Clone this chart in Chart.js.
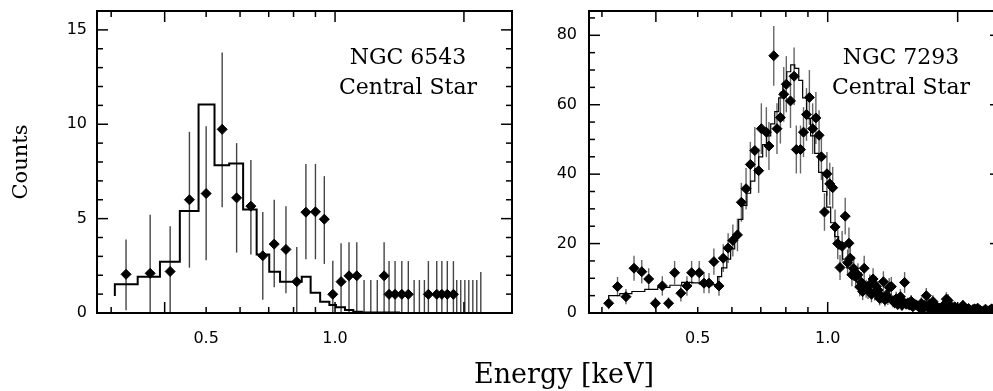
<!DOCTYPE html>
<html>
<head>
<meta charset="utf-8">
<script src="https://cdn.jsdelivr.net/npm/chart.js@4.4.0/dist/chart.umd.min.js"></script>
<style>
    html, body { margin: 0; padding: 0; background: #fff; }
    body { width: 993px; height: 391px; overflow: hidden; position: relative; }
    canvas { position: absolute; top: 0; }
    #left { left: 0; }
    #right { left: 540px; }
    .note {
        position: absolute; top: 42px; width: 220px;
        font-family: 'DejaVu Serif', serif; font-size: 22px; line-height: 30px;
        text-align: center; color: #000;
    }
    #xtitle {
        position: absolute; left: 414px; top: 359px; width: 300px;
        font-family: 'DejaVu Serif', serif; font-size: 27px; line-height: 30px;
        text-align: center; color: #000;
    }
</style>
</head>
<body>
<canvas id="left" width="540" height="391"></canvas>
<canvas id="right" width="470" height="391"></canvas>
<div class="note" style="left:298px">NGC 6543<br>Central Star</div>
<div class="note" style="left:791px">NGC 7293<br>Central Star</div>
<div id="xtitle">Energy [keV]</div>
<script>
// NGC 6543 - measured bins
const leftEnergy = [0.325, 0.370, 0.412, 0.457, 0.500, 0.545, 0.589, 0.636, 0.678, 0.721, 0.768, 0.814, 0.855, 0.900, 0.944,
    0.988, 1.033, 1.078, 1.124, 1.302, 1.337, 1.381, 1.432, 1.483, 1.652, 1.728, 1.776, 1.829, 1.890]
const leftCounts = [2.05, 2.1, 2.2, 6.0, 6.33, 9.73, 6.1, 5.66, 3.03, 3.65, 3.37, 1.66, 5.34, 5.36, 4.97,
    0.99, 1.66, 1.97, 1.97, 1.97, 0.99, 0.99, 0.99, 0.99, 0.99, 0.99, 0.99, 0.99, 0.99]
const leftLow = [0.15, 0, 0, 2.4, 2.8, 5.6, 3.2, 3.1, 0.7, 1.37, 1.05, 0, 2.85, 2.85, 2.6,
    0, 0, 0, 0, 0, 0, 0, 0, 0, 0, 0, 0, 0, 0]
const leftHigh = [3.9, 5.2, 4.6, 9.6, 9.9, 13.8, 9.0, 8.1, 5.35, 6.0, 5.66, 3.5, 7.9, 7.9, 7.25,
    2.77, 3.7, 3.75, 3.75, 3.75, 2.75, 2.75, 2.75, 2.75, 2.75, 2.75, 2.75, 2.75, 2.75]
// empty bins, only the upper error is drawn
const leftEmptyEnergy = [1.169, 1.212, 1.255, 1.530, 1.574, 1.617, 1.924, 1.966, 2.010, 2.053, 2.098, 2.143, 2.190]
const leftEmptyHigh = [1.75, 1.75, 1.75, 1.75, 1.75, 1.75, 1.75, 1.75, 1.75, 1.75, 1.75, 1.75, 2.17]
// model histogram (left bin edges)
const leftModelEnergy = [0.306, 0.346, 0.390, 0.434, 0.480, 0.523, 0.566, 0.610, 0.656, 0.702, 0.744, 0.836, 0.877,
    0.923, 0.970, 1.005, 1.055, 1.103, 1.155, 1.345, 1.419]
const leftModelCounts = [0.9, 1.52, 1.92, 2.71, 5.41, 11.04, 7.83, 7.92, 5.49, 3.1, 2.19, 1.66, 1.92,
    1.07, 0.6, 0.42, 0.3, 0.16, 0.07, 0.03, 0.03]

// NGC 7293
const rightEnergy = [0.311, 0.326, 0.341, 0.356, 0.371, 0.385, 0.399, 0.414, 0.428, 0.442,
    0.457, 0.472, 0.484, 0.504, 0.517, 0.531, 0.545, 0.560, 0.573, 0.588,
    0.603, 0.618, 0.631, 0.647, 0.662, 0.678, 0.692, 0.702, 0.721, 0.731,
    0.750, 0.763, 0.777, 0.791, 0.802, 0.820, 0.836, 0.846, 0.865, 0.879,
    0.893, 0.907, 0.923, 0.939, 0.955, 0.967, 0.983, 0.996, 1.011, 1.027,
    1.040, 1.055, 1.068, 1.080, 1.098, 1.112, 1.120, 1.128, 1.138, 1.149,
    1.161, 1.175, 1.186, 1.197, 1.205, 1.215, 1.228, 1.240, 1.252, 1.263,
    1.274, 1.285, 1.296, 1.307, 1.319, 1.331, 1.346, 1.357, 1.368, 1.378,
    1.388, 1.404, 1.416, 1.429, 1.441, 1.452, 1.463, 1.474, 1.486, 1.497,
    1.507, 1.520, 1.534, 1.547, 1.561, 1.575, 1.590, 1.605, 1.619, 1.633,
    1.648, 1.662, 1.677, 1.692, 1.706, 1.720, 1.737, 1.753, 1.768, 1.784,
    1.800, 1.815, 1.830, 1.848, 1.865, 1.883, 1.900, 1.914, 1.927, 1.948,
    1.968, 1.989, 2.010, 2.034, 2.057, 2.078, 2.098, 2.120, 2.150, 2.170,
    2.189, 2.210, 2.225, 2.248, 2.272, 2.296, 2.320, 2.350, 2.372, 2.397,
    2.420, 2.445, 2.470, 2.500]
const rightCounts = [2.8, 7.6, 4.7, 12.9, 11.9, 9.8, 2.8, 7.8, 2.8, 11.6,
    5.7, 7.8, 11.6, 11.6, 8.6, 8.6, 14.8, 7.8, 15.8, 18.7,
    20.9, 22.5, 31.9, 35.8, 42.8, 46.8, 41.0, 53.1, 52.1, 48.1,
    74.1, 53.1, 56.3, 63.0, 65.9, 61.1, 68.2, 47.1, 47.1, 52.1,
    57.2, 62.1, 53.1, 56.2, 51.2, 45.0, 29.1, 40.1, 37.2, 36.1,
    24.8, 20.0, 13.1, 19.2, 27.9, 14.5, 20.1, 15.8, 11.0, 12.8,
    10.5, 11.0, 7.5, 8.8, 6.2, 12.9, 7.0, 6.6, 8.2, 5.4,
    9.8, 6.0, 7.6, 6.6, 4.2, 4.9, 9.0, 3.8, 5.2, 4.4,
    7.4, 7.6, 3.4, 3.0, 4.1, 2.5, 3.6, 4.7, 2.2, 3.2,
    8.8, 2.6, 2.8, 2.3, 3.4, 1.8, 2.5, 2.3, 2.0, 1.5,
    2.8, 1.2, 2.2, 5.0, 1.6, 2.6, 1.0, 3.3, 1.4, 2.0,
    0.5, 1.4, 0.8, 2.0, 1.1, 4.0, 3.6, 1.2, 2.0, 0.7,
    1.8, 0.9, 1.2, 0.5, 2.2, 0.8, 0.6, 1.3, 0.5, 1.0,
    1.2, 0.4, 1.4, 0.9, 0.5, 0.6, 1.1, 0.5, 0.8, 1.2,
    0.6, 0.9, 0.5, 0.8]
const rightErr = [1.7, 2.8, 2.2, 3.6, 3.4, 3.1, 1.7, 2.8, 1.7, 3.4,
    2.4, 2.8, 3.4, 3.4, 2.9, 2.9, 3.8, 2.8, 4.0, 4.3,
    4.6, 4.7, 5.6, 6.0, 6.5, 6.8, 6.4, 7.3, 7.2, 6.9,
    8.6, 7.3, 7.5, 7.9, 8.1, 7.8, 8.3, 6.9, 6.9, 7.2,
    7.6, 7.9, 7.3, 7.5, 7.2, 6.7, 5.4, 6.3, 6.1, 6.0,
    5.0, 4.5, 3.6, 4.4, 5.3, 3.8, 4.5, 4.0, 3.3, 3.6,
    3.2, 3.3, 2.7, 3.0, 2.5, 3.6, 2.6, 2.6, 2.9, 2.3,
    3.1, 2.4, 2.8, 2.6, 2.0, 2.2, 3.0, 1.9, 2.3, 2.1,
    2.7, 2.8, 1.8, 1.7, 2.0, 1.6, 1.9, 2.2, 1.5, 1.8,
    3.0, 1.6, 1.7, 1.5, 1.8, 1.3, 1.6, 1.5, 1.4, 1.2,
    1.7, 1.1, 1.5, 2.2, 1.3, 1.6, 1.0, 1.8, 1.2, 1.4,
    0.7, 1.2, 0.9, 1.4, 1.0, 2.0, 1.9, 1.1, 1.4, 0.8,
    1.3, 0.9, 1.1, 0.7, 1.5, 0.9, 0.8, 1.1, 0.7, 1.0,
    1.1, 0.6, 1.2, 1.0, 0.7, 0.8, 1.0, 0.7, 0.9, 1.1,
    0.8, 0.9, 0.7, 0.9]
const rightModelEnergy = [0.311, 0.330, 0.352, 0.377, 0.404, 0.431, 0.459, 0.487, 0.506, 0.522,
    0.539, 0.556, 0.568, 0.584, 0.596, 0.609, 0.622, 0.636, 0.650, 0.663,
    0.678, 0.692, 0.707, 0.722, 0.738, 0.754, 0.770, 0.787, 0.804, 0.821,
    0.839, 0.857, 0.875, 0.894, 0.913, 0.933, 0.953, 0.974, 0.995, 1.016,
    1.038, 1.060, 1.083, 1.107, 1.137, 1.167, 1.205, 1.251, 1.305, 1.377,
    1.468, 1.590, 1.741, 1.936, 2.189, 2.52]
const rightModelCounts = [4.2, 5.0, 5.6, 6.2, 6.8, 7.4, 8.0, 8.8, 8.7, 8.3,
    7.9, 8.2, 10.5, 13.0, 15.5, 18.5, 22.5, 27, 31, 34.5,
    38, 41.5, 45, 48.5, 51, 54.5, 58, 62, 66, 69.5,
    71.5, 70.5, 67, 62, 56, 51, 46, 40.5, 35, 30.5,
    26, 22, 18.5, 15.5, 13, 11, 9, 7.5, 6, 4.8,
    3.8, 2.8, 2.0, 1.4, 0.9, 0.6]

// axes
const xTickLabels = [0.5, 1.0]
const xLongTicks = [0.4, 1, 2]
const xShortTicks = [0.3, 0.5, 0.6, 0.7, 0.8, 0.9]
const leftYLabels = [0, 5, 10, 15]
const rightYLabels = [0, 20, 40, 60, 80]

const tickFont = { family: 'DejaVu Sans', size: 16 }

const framePlugin = (yMajor, yStep) => ({
    id: 'frame',
    afterDraw(chart) {
        const { ctx, chartArea: a, scales: { x, y } } = chart
        const seg = (x1, y1, x2, y2) => {
            ctx.beginPath()
            ctx.moveTo(x1, y1)
            ctx.lineTo(x2, y2)
            ctx.stroke()
        }
        ctx.save()
        ctx.strokeStyle = '#000'
        ctx.lineWidth = 1.5
        const xTick = (v, len) => {
            const px = x.getPixelForValue(v)
            seg(px, a.bottom, px, a.bottom - len)
            seg(px, a.top, px, a.top + len)
        }
        xLongTicks.forEach(v => xTick(v, 11))
        xShortTicks.forEach(v => xTick(v, 6))
        for (let v = 0; v <= y.max; v += yStep) {
            const len = yMajor.includes(v) ? 11 : 6
            const py = y.getPixelForValue(v)
            seg(a.left, py, a.left + len, py)
            seg(a.right, py, a.right - len, py)
        }
        ctx.lineWidth = 2
        ctx.strokeRect(a.left, a.top, a.right - a.left, a.bottom - a.top)
        ctx.restore()
    }
})

const errorBarPlugin = (bars, color) => ({
    id: 'errorBars',
    beforeDatasetsDraw(chart) {
        const { ctx, chartArea: a, scales: { x, y } } = chart
        ctx.save()
        ctx.beginPath()
        ctx.rect(a.left, a.top, a.right - a.left, a.bottom - a.top)
        ctx.clip()
        ctx.strokeStyle = color
        ctx.lineWidth = 1.4
        bars.forEach(b => {
            const px = x.getPixelForValue(b.x)
            ctx.beginPath()
            ctx.moveTo(px, y.getPixelForValue(b.lo))
            ctx.lineTo(px, y.getPixelForValue(b.hi))
            ctx.stroke()
        })
        ctx.restore()
    }
})

const makeChart = (id, o) => new Chart(document.getElementById(id), {
    type: 'scatter',
    data: {
        datasets: [{
            type: 'line',
            data: o.modelE.map((e, i) => ({ x: e, y: o.modelC[i] })),
            stepped: 'after',
            borderColor: '#000',
            borderWidth: o.modelWidth,
            pointRadius: 0,
            fill: false
        }, {
            data: o.e.map((e, i) => ({ x: e, y: o.c[i] })),
            pointStyle: 'rectRot',
            pointRadius: 5,
            backgroundColor: '#000',
            borderColor: '#000',
            borderWidth: 1
        }]
    },
    options: {
        responsive: false,
        animation: false,
        devicePixelRatio: 1,
        layout: { padding: { top: 11, right: o.padRight, left: 0, bottom: 0 } },
        plugins: { legend: { display: false }, tooltip: { enabled: false } },
        scales: {
            x: {
                type: 'logarithmic',
                min: o.xMin,
                max: o.xMax,
                grid: { display: false, drawTicks: false },
                border: { display: false },
                afterBuildTicks: s => { s.ticks = xTickLabels.map(v => ({ value: v })) },
                afterFit: s => {
                    s.height = 78
                    s.paddingLeft = 0
                    s.paddingRight = 0
                },
                ticks: {
                    callback: v => Number(v).toFixed(1),
                    font: tickFont, color: '#000', padding: 16, maxRotation: 0, autoSkip: false
                }
            },
            y: {
                min: 0,
                max: o.yMax,
                grid: { display: false, drawTicks: false },
                border: { display: false },
                afterBuildTicks: s => { s.ticks = o.yLabels.map(v => ({ value: v })) },
                afterFit: s => {
                    s.width = o.yWidth
                    s.paddingTop = 0
                    s.paddingBottom = 0
                },
                ticks: { font: tickFont, color: '#000', padding: o.yPad, autoSkip: false },
                title: {
                    display: !!o.yTitle,
                    text: o.yTitle || '',
                    color: '#000',
                    font: { family: 'DejaVu Serif', size: 21 },
                    padding: { top: 9, bottom: 0 }
                }
            }
        }
    },
    plugins: [framePlugin(o.yLabels, o.yStep), errorBarPlugin(o.bars, o.barColor)]
})

const leftBars = leftEnergy.map((e, i) => ({ x: e, lo: leftLow[i], hi: leftHigh[i] }))
    .concat(leftEmptyEnergy.map((e, i) => ({ x: e, lo: 0, hi: leftEmptyHigh[i] })))

const rightBars = rightEnergy.map((e, i) => ({ x: e, lo: rightCounts[i] - rightErr[i], hi: rightCounts[i] + rightErr[i] }))

makeChart('left', {
    e: leftEnergy, c: leftCounts, modelE: leftModelEnergy, modelC: leftModelCounts, modelWidth: 2,
    bars: leftBars, barColor: '#444', xMin: 0.278, xMax: 2.59, yMax: 16, yLabels: leftYLabels, yStep: 1,
    yWidth: 97, yPad: 10, padRight: 28, yTitle: 'Counts'
})

makeChart('right', {
    e: rightEnergy, c: rightCounts, modelE: rightModelEnergy, modelC: rightModelCounts, modelWidth: 1.2,
    bars: rightBars, barColor: '#666', xMin: 0.28, xMax: 2.52, yMax: 87, yLabels: rightYLabels, yStep: 5,
    yWidth: 49, yPad: 12, padRight: 9
})
</script>
</body>
</html>
